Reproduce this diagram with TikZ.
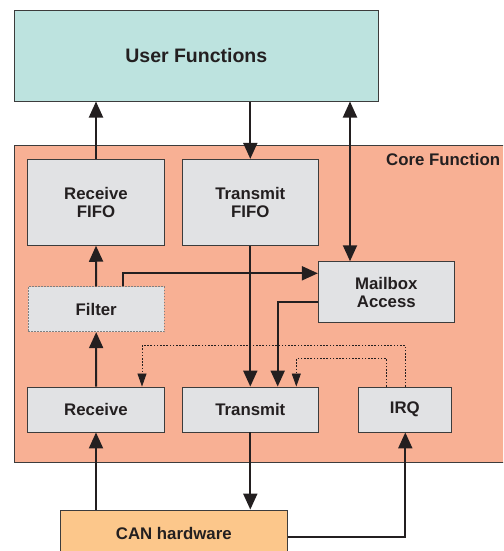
\documentclass[tikz,border=0pt]{standalone}
\usepackage{fontspec}
\setmainfont{Liberation Sans}
\usetikzlibrary{arrows.meta}
\definecolor{ufcol}{HTML}{BDE3DF}
\definecolor{corecol}{HTML}{F8B094}
\definecolor{boxcol}{HTML}{E1E2E4}
\definecolor{cancol}{HTML}{FCC78B}
\definecolor{ink}{HTML}{231F20}
\definecolor{edge}{HTML}{3C3C3C}
\tikzset{
  blk/.style={draw=edge, line width=0.9pt, fill=boxcol, inner sep=0pt, align=center,
    text=ink, font=\fontsize{16.8}{18.3}\selectfont\bfseries},
  arr/.style={draw=ink, line width=2pt, -{Triangle[length=16pt,width=14pt]}},
  arrtwo/.style={draw=ink, line width=2pt, {Triangle[length=16pt,width=14pt]}-{Triangle[length=16pt,width=14pt]}},
  dotarr/.style={draw=ink, line width=0.8pt, dash pattern=on 1.6pt off 1.6pt, -{Triangle[length=13pt,width=9pt]}}
}
\begin{document}
\begin{tikzpicture}[x=1pt,y=-1pt]
\useasboundingbox (0,0) rectangle (503,551);
\clip (0,0) rectangle (503,551);
% core area
\fill[corecol, draw=edge, line width=0.9pt] (14.3,145.7) rectangle (530,462.7);
\node[anchor=base west, inner sep=0pt, text=ink, font=\fontsize{16.8}{18}\selectfont\bfseries] (corelbl) at (386,165.7) {Core Function};
% user functions
\node[blk, fill=ufcol, minimum width=364.7pt, minimum height=90.7pt, font=\fontsize{19.5}{21}\selectfont\bfseries] (uf) at (196.3,55.7) {User Functions};
% blocks
\node[blk, minimum width=136.6pt, minimum height=86pt] (rfifo) at (96,202.3) {Receive\\FIFO};
\node[blk, minimum width=136pt, minimum height=86pt] (tfifo) at (250.3,202.3) {Transmit\\FIFO};
\node[blk, minimum width=136pt, minimum height=61pt] (mail) at (386.3,292.2) {Mailbox\\Access};
\node[blk, draw=gray, dash pattern=on 1.5pt off 1.5pt, minimum width=136.3pt, minimum height=45pt] (filter) at (96.2,309.2) {Filter};
\node[blk, minimum width=136.3pt, minimum height=45pt] (rx) at (96,409.5) {Receive};
\node[blk, minimum width=136pt, minimum height=45pt] (tx) at (250.3,409.5) {Transmit};
\node[blk, minimum width=93.7pt, minimum height=45pt] (irq) at (404.8,409.5) {IRQ};
\node[blk, fill=cancol, minimum width=227pt, minimum height=46pt] (can) at (173.8,533) {CAN hardware};
% connectors
\draw[arr] (rfifo.north) -- (rfifo.north |- uf.south);
\draw[arr] (tfifo.north |- uf.south) -- (tfifo.north);
\draw[arrtwo] ([xshift=-36.3pt]mail.north |- uf.south) -- ([xshift=-36.3pt]mail.north);
\draw[arr] (filter.north) -- (rfifo.south);
\draw[arr] ([xshift=27.1pt]filter.north) |- ([yshift=18.9pt]mail.west);
\draw[arr] (tfifo.south) -- (tx.north);
\draw[arr] ([yshift=-9.5pt]mail.west) -| ([xshift=27.4pt]tx.north);
\draw[dotarr] ([xshift=0.5pt]irq.north) -- ++(0,-41) -| ([xshift=46pt]rx.north);
\draw[dotarr] ([xshift=-18.5pt]irq.north) -- ++(0,-28) -| ([xshift=46pt]tx.north);
\draw[arr] (rx.north) -- (filter.south);
\draw[arr] (rx.south |- can.north) -- (rx.south);
\draw[arr] (tx.south) -- (tx.south |- can.north);
\draw[arr] ([yshift=-3.7pt]can.east) -| ([xshift=0.5pt]irq.south);
\end{tikzpicture}
\end{document}
